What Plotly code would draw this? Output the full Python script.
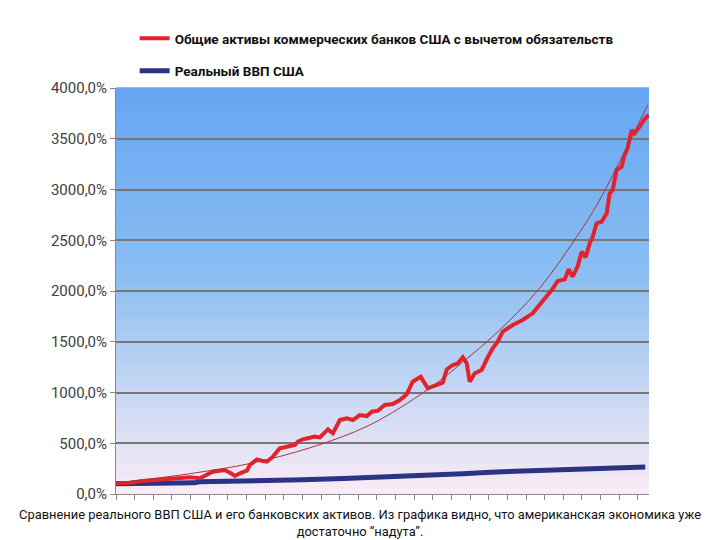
import plotly.graph_objects as go

# Periods (x-axis tick units, unlabeled) and values in %
red_x = [0.0, 0.75, 1.45, 2.36, 3.27, 3.97, 4.50, 4.88, 5.20, 5.58, 5.84, 6.11, 6.38, 6.65, 7.02, 7.18,
         7.56, 7.88, 8.10, 8.42, 8.79, 9.17, 9.60, 9.76, 10.03, 10.29, 10.67, 10.94, 11.37, 11.64, 12.01,
         12.39, 12.71, 13.08, 13.46, 13.73, 14.05, 14.42, 14.85, 15.23, 15.60, 15.92, 16.35, 16.73, 17.10,
         17.53, 17.75, 18.07, 18.34, 18.61, 18.82, 18.98, 19.25, 19.62, 19.95, 20.21, 20.48, 20.75, 21.29,
         21.82, 22.36, 22.73, 23.11, 23.38, 23.70, 24.08, 24.29, 24.50, 24.77, 24.99, 25.20, 25.42, 25.58,
         25.79, 26.06, 26.33, 26.49, 26.65, 26.86, 27.13, 27.29, 27.45, 27.67, 27.83, 28.10, 28.36, 28.58]
red_y = [105, 111, 128, 138, 148, 164, 155, 187, 220, 230, 236, 210, 177, 204, 230, 286,
         341, 325, 318, 368, 450, 466, 483, 515, 539, 549, 565, 558, 637, 598, 729,
         746, 729, 778, 768, 811, 821, 877, 887, 926, 982, 1106, 1156, 1041, 1064,
         1097, 1228, 1271, 1288, 1347, 1288, 1106, 1189, 1222, 1347, 1435, 1500, 1599, 1665,
         1714, 1780, 1862, 1944, 2010, 2099, 2115, 2214, 2141, 2240, 2387, 2332, 2470, 2535,
         2667, 2683, 2766, 2962, 2995, 3192, 3225, 3340, 3406, 3586, 3554, 3619, 3692, 3734]

blue_x = [0.0, 1.8, 2.4, 4.2, 4.5, 8.4, 8.7, 10.0, 12.2, 14.8, 16.9, 18.6, 20.1, 22.1, 24.3, 25.8, 28.4]
blue_y = [100, 102, 105, 110, 120, 128, 135, 140, 152, 168, 185, 200, 215, 228, 243, 254, 266]

trend_x = [0.0, 2.36, 4.50, 7.18, 10.40, 13.62, 16.73, 18.61, 20.59, 22.73, 24.72, 25.95, 28.53]
trend_y = [110, 160, 215, 300, 455, 680, 1030, 1300, 1616, 2027, 2535, 2897, 3833]

name_red = "Общие активы коммерческих банков США с вычетом обязательств"
name_blue = "Реальный ВВП США"
caption = ("Сравнение реального ВВП США и его банковских активов. Из графика видно, что американская экономика уже"
           "<br>достаточно “надута”.")

FONT = "Roboto, Arial"

fig = go.Figure()
fig.add_trace(go.Scatter(x=blue_x, y=blue_y, mode="lines", name=name_blue,
                         line=dict(color="#2b3383", width=5), legendgroup="b", legendrank=2))
fig.add_trace(go.Scatter(x=red_x, y=red_y, mode="lines", name=name_red,
                         line=dict(color="#e3232b", width=4), legendgroup="r", legendrank=1))
fig.add_trace(go.Scatter(x=trend_x, y=trend_y, mode="lines", showlegend=False,
                         line=dict(color="#a8323c", width=1, shape="spline")))

# vertical gradient background
top = (104, 166, 244)
mid = (138, 190, 242)
bot = (250, 236, 246)
n = 80
shapes = []
for i in range(n):
    t = i / (n - 1)  # 0 bottom -> 1 top
    if t < 0.55:
        u = t / 0.55
        c = tuple(int(bot[k] + (mid[k] - bot[k]) * u) for k in range(3))
    else:
        u = (t - 0.55) / 0.45
        c = tuple(int(mid[k] + (top[k] - mid[k]) * u) for k in range(3))
    shapes.append(dict(type="rect", xref="x domain", yref="y domain", x0=0, x1=1,
                       y0=i / n, y1=(i + 1) / n + 0.002, fillcolor="rgb(%d,%d,%d)" % c,
                       line=dict(width=0), layer="below"))

fig.update_layout(
    width=720, height=540,
    margin=dict(l=116, r=71, t=88, b=46),
    paper_bgcolor="white", plot_bgcolor="rgba(0,0,0,0)",
    separators=", ",
    font=dict(family=FONT, color="#333333"),
    shapes=shapes,
    showlegend=True,
    legend=dict(x=0.035, y=1.16, xanchor="left", yanchor="top", bgcolor="rgba(0,0,0,0)",
                font=dict(family=FONT, size=13.5, color="#111111", weight="bold"),
                itemwidth=30, tracegroupgap=12),
    annotations=[dict(text=caption, x=(360 - 116) / 533, y=-0.028, xref="paper", yref="paper",
                      xanchor="center", yanchor="top",
                      align="center", showarrow=False,
                      font=dict(family=FONT, size=12.9, color="#111111"))],
)

fig.update_xaxes(range=[0, 28.6], dtick=1, tick0=0, showticklabels=False, ticks="outside",
                 ticklen=5, tickcolor="#888888", showgrid=False, showline=True,
                 linecolor="#888888", linewidth=1, zeroline=False)
fig.update_yaxes(range=[0, 4000], dtick=500, tickformat=".1f", ticksuffix="%", ticks="outside",
                 ticklen=5, tickcolor="#888888", showgrid=True, gridcolor="#767676", gridwidth=1.5,
                 showline=True, linecolor="#888888", linewidth=1, zeroline=False,
                 tickfont=dict(family=FONT, size=15, color="#404040"))

fig.write_html("out.html")
